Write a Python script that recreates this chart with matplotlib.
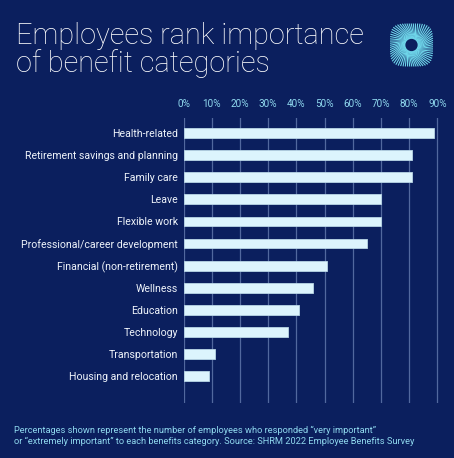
import numpy as np
import matplotlib.pyplot as plt

# ============= data =============
categories = ["Health-related", "Retirement savings and planning", "Family care",
              "Leave", "Flexible work", "Professional/career development",
              "Financial (non-retirement)", "Wellness", "Education", "Technology",
              "Transportation", "Housing and relocation"]
values = [89, 81, 81, 70, 70, 65, 51, 46, 41, 37, 11, 9]
tick_values = [0, 10, 20, 30, 40, 50, 60, 70, 80, 90]
tick_labels = [f"{v}%" for v in tick_values]

BG = "#0b1f5e"
BAR = "#dcf4fd"
GRID = "#52689e"
TICK = "#8fd8ee"

plt.rcParams['font.family'] = ['Roboto', 'DejaVu Sans']

W, H = 454, 458
fig = plt.figure(figsize=(W / 100, H / 100), dpi=100, facecolor=BG)

# axes placed in pixel terms
x0, x1 = 183.5, 452
y_top, y_bot = 117.7, 403.3
ax = fig.add_axes([x0 / W, 1 - y_bot / H, (x1 - x0) / W, (y_bot - y_top) / H])
ax.set_facecolor(BG)

y = np.arange(len(categories))
ax.barh(y, values, height=0.45, color=BAR, edgecolor="#b9d6e6", linewidth=0.6, zorder=3)
ax.set_ylim(len(categories) - 1 + 1.25, -0.71)
ax.set_xlim(0, (x1 - x0) / 28.2 * 10)

ax.set_xticks(tick_values)
ax.set_xticklabels(tick_labels)
ax.xaxis.tick_top()
ax.tick_params(axis='x', length=0, pad=6, labelsize=7.2, labelcolor=TICK)
ax.set_yticks(y)
ax.set_yticklabels(categories)
ax.tick_params(axis='y', length=0, pad=4, labelsize=7.6, labelcolor="#eef3fa")
for xv in tick_values:
    ax.axvline(xv, color=GRID, linewidth=0.9, zorder=1)
for s in ax.spines.values():
    s.set_visible(False)

# ============= title and footnote =============
fig.text(16 / W, 1 - 44 / H, "Employees rank importance", color="white",
         fontsize=20.8, fontweight='light', va='baseline')
fig.text(16 / W, 1 - 72 / H, "of benefit categories", color="white",
         fontsize=20.8, fontweight='light', va='baseline')
fig.text(14 / W, 1 - 433 / H, "Percentages shown represent the number of employees who responded \u201cvery important\u201d",
         color=TICK, fontsize=6.7, va='baseline')
fig.text(14 / W, 1 - 444 / H, "or \u201cextremely important\u201d to each benefits category. Source: SHRM 2022 Employee Benefits Survey",
         color=TICK, fontsize=6.7, va='baseline')

# ============= logo swirl =============
lax = fig.add_axes([389 / W, 1 - 67 / H, 45 / W, 44 / H])
lax.set_xlim(-1.05, 1.05)
lax.set_ylim(-1.05, 1.05)
lax.set_aspect('equal')
lax.axis('off')
n_rays = 64
for k in range(n_rays):
    a = 2 * np.pi * k / n_rays
    # outer edge: rounded square (superellipse)
    ca, sa = np.cos(a + 0.6), np.sin(a + 0.6)
    r_out = 1.0 / (abs(ca) ** 4 + abs(sa) ** 4) ** 0.25
    p_in = 0.28 * np.cos(a), 0.28 * np.sin(a)
    p_out = r_out * np.cos(a + 0.6), r_out * np.sin(a + 0.6)
    lax.plot([p_in[0], p_out[0]], [p_in[1], p_out[1]], color="#6fd6ea", linewidth=0.8)
lax.add_patch(plt.Circle((0, 0), 0.26, color=BG, zorder=5))

fig.savefig("out.png", dpi=100, facecolor=BG)
